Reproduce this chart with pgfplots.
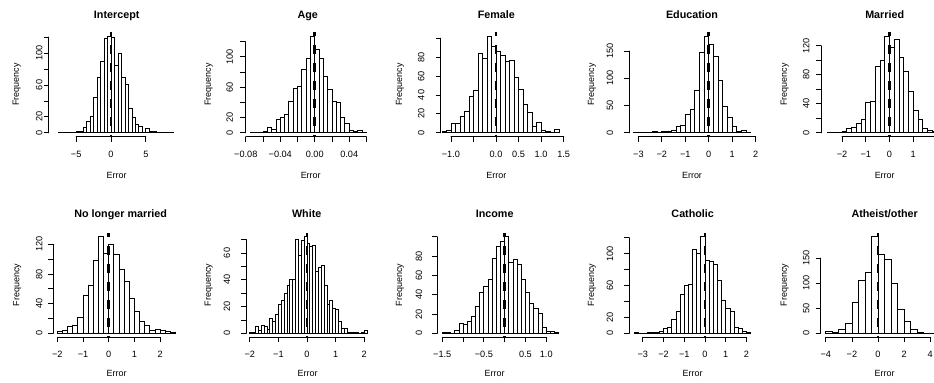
\documentclass[border=0pt]{standalone}
\usepackage{fontspec}
\setmainfont{Liberation Sans}
\usepackage{pgfplots}
\pgfplotsset{compat=1.18}
\newcommand{\tlf}{\fontsize{9.2}{11}\selectfont}
\newcommand{\lbf}{\fontsize{9}{11}\selectfont}
\newcommand{\ttf}{\bfseries\fontsize{10.8}{13}\selectfont}
\pgfplotsset{
 rh/.style={scale only axis, height=104.3bp, anchor=south west, clip=false,
   scaled ticks=false,
   axis x line*=bottom, axis y line*=left, axis line style={draw=none},
   tick align=outside, major tick length=5bp, tick style={draw=black, line width=0.8bp},
   ticklabel style={font=\tlf},
   every axis title/.style={font=\ttf, anchor=base},
   every axis x label/.style={font=\lbf, anchor=base},
   every axis y label/.style={font=\lbf, rotate=90, anchor=center}},
 top/.style={at={(#1,246.3bp)}, xticklabel style={anchor=base, yshift=-16bp}},
 bot/.style={at={(#1,45.7bp)}, xticklabel style={anchor=base, yshift=-15.3bp}},
 ylab/.style={yticklabel style={xshift=-#1, rotate=90, anchor=center}},
 hist/.style={ybar interval, fill=white, draw=black, line width=0.8bp},
 zl/.style={black, line width=2.6bp, dash pattern=on 9bp off 9bp, dash phase=5bp},
}
\tikzset{axl/.style={line width=0.8bp, line cap=round}}
\begin{document}
\begin{tikzpicture}
\path[use as bounding box] (0,0) rectangle (934bp,383bp);
\fill[white] (0,0) rectangle (934bp,383bp);
% ---------- Intercept
\begin{axis}[rh, top=48.7bp, width=129.6bp, xmin=-8.94, xmax=9.66, ymin=-4.84, ymax=125.84,
 xtick={-5,0,5}, xticklabels={−5,0,5}, ytick={0,20,40,60,80,100,120}, yticklabels={0,20,,60,,100,},
 ylab=4.4bp,
 title={Intercept}, title style={at={(axis description cs:0.5247,1.136)}},
 xlabel={Error}, xlabel style={at={(axis description cs:0.5247,-0.40)}},
 ylabel={Frequency}, ylabel style={at={(axis description cs:-0.2469,0.5)}}]
\addplot[hist] coordinates {(-7.5,1) (-7,0) (-6.5,0) (-6,1) (-5.5,0) (-5,2) (-4.5,2) (-4,7) (-3.5,14) (-3,21) (-2.5,44) (-2,69) (-1.5,89) (-1,118) (-0.5,121) (0,119) (0.5,85) (1,99) (1.5,70) (2,61) (2.5,31) (3,19) (3.5,10) (4,8) (4.5,1) (5,5) (5.5,2) (6,2) (6.5,1) (7,0) (7.5,1) (8,1) (8.5,1) (9,0)};
\addplot[zl] coordinates {(0,125.84) (0,-4.84)};
\draw[axl] (axis cs:-5,-4.84) -- (axis cs:5,-4.84);
\draw[axl] (axis cs:-8.94,0) -- (axis cs:-8.94,120);
\end{axis}
% ---------- Age
\begin{axis}[rh, top=245.3bp, width=125.8bp, xmin=-0.08054, xmax=0.0654, ymin=-5.08, ymax=132.08,
 xtick={-0.08,-0.06,-0.04,-0.02,0,0.02,0.04,0.06}, xticklabels={−0.08,,−0.04,,0.00,,0.04,},
 ytick={0,20,40,60,80,100,120}, yticklabels={0,20,,60,,100,},
 ylab=10.5bp,
 title={Age}, title style={at={(axis description cs:0.496,1.136)}},
 xlabel={Error}, xlabel style={at={(axis description cs:0.52,-0.40)}},
 ylabel={Frequency}, ylabel style={at={(axis description cs:-0.291,0.5)}}]
\addplot[hist] coordinates {(-0.075,1) (-0.07,0) (-0.065,1) (-0.06,2) (-0.055,7) (-0.05,4) (-0.045,18) (-0.04,20) (-0.035,24) (-0.03,41) (-0.025,58) (-0.02,61) (-0.015,84) (-0.01,98) (-0.005,127) (0,110) (0.005,98) (0.01,74) (0.015,57) (0.02,41) (0.025,40) (0.03,20) (0.035,12) (0.04,3) (0.045,2) (0.05,3) (0.055,1) (0.06,0)};
\addplot[zl] coordinates {(0,132.08) (0,-5.08)};
\draw[axl] (axis cs:-0.08,-5.08) -- (axis cs:0.06,-5.08);
\draw[axl] (axis cs:-0.08054,0) -- (axis cs:-0.08054,120);
\end{axis}
% ---------- Female
\begin{axis}[rh, top=440.7bp, width=123.1bp, xmin=-1.227, xmax=1.504, ymin=-4.08, ymax=106.08,
 xtick={-1,-0.5,0,0.5,1,1.5}, xticklabels={−1.0,,0.0,0.5,1.0,1.5},
 ytick={0,20,40,60,80,100}, yticklabels={0,20,40,60,80,},
 ylab=14.4bp,
 title={Female}, title style={at={(axis description cs:0.4517,1.136)}},
 xlabel={Error}, xlabel style={at={(axis description cs:0.4517,-0.40)}},
 ylabel={Frequency}, ylabel style={at={(axis description cs:-0.3306,0.5)}}]
\addplot[hist] coordinates {(-1.2,2) (-1.1,3) (-1.0,10) (-0.9,10) (-0.8,17) (-0.7,23) (-0.6,39) (-0.5,45) (-0.4,84) (-0.3,79) (-0.2,102) (-0.1,91) (0,86) (0.1,82) (0.2,75) (0.3,76) (0.4,59) (0.5,46) (0.6,30) (0.7,22) (0.8,7) (0.9,11) (1.0,3) (1.1,1) (1.2,0) (1.3,4) (1.4,0)};
\addplot[zl] coordinates {(0,106.08) (0,-4.08)};
\draw[axl] (axis cs:-1,-4.08) -- (axis cs:1.5,-4.08);
\draw[axl] (axis cs:-1.227,0) -- (axis cs:-1.227,100);
\end{axis}
% ---------- Education
\begin{axis}[rh, top=629.3bp, width=126.5bp, xmin=-3.389, xmax=2.01, ymin=-7.08, ymax=184.08,
 xtick={-3,-2,-1,0,1,2}, xticklabels={−3,−2,−1,0,1,2},
 ytick={0,50,100,150}, yticklabels={0,50,100,150},
 ylab=14.3bp,
 title={Education}, title style={at={(axis description cs:0.4957,1.136)}},
 xlabel={Error}, xlabel style={at={(axis description cs:0.4957,-0.40)}},
 ylabel={Frequency}, ylabel style={at={(axis description cs:-0.2949,0.5)}}]
\addplot[hist] coordinates {(-3.2,1) (-3.0,1) (-2.8,1) (-2.6,1) (-2.4,2) (-2.2,1) (-2.0,2) (-1.8,2) (-1.6,5) (-1.4,11) (-1.2,14) (-1.0,33) (-0.8,43) (-0.6,78) (-0.4,148) (-0.2,177) (0,162) (0.2,140) (0.4,97) (0.6,48) (0.8,29) (1.0,12) (1.2,3) (1.4,4) (1.6,1) (1.8,0)};
\addplot[zl] coordinates {(0,184.08) (0,-7.08)};
\draw[axl] (axis cs:-3,-7.08) -- (axis cs:2,-7.08);
\draw[axl] (axis cs:-3.389,0) -- (axis cs:-3.389,150);
\end{axis}
% ---------- Married
\begin{axis}[rh, top=821.3bp, width=124.9bp, xmin=-2.878, xmax=2.392, ymin=-5.32, ymax=138.32,
 xtick={-2,-1,0,1,2}, xticklabels={−2,−1,0,1,},
 ytick={0,20,40,60,80,100,120}, yticklabels={0,,40,,80,,120},
 ylab=10bp,
 title={Married}, title style={at={(axis description cs:0.5076,1.136)}},
 xlabel={Error}, xlabel style={at={(axis description cs:0.5076,-0.40)}},
 ylabel={Frequency}, ylabel style={at={(axis description cs:-0.293,0.5)}}]
\addplot[hist] coordinates {(-2.6,1) (-2.4,0) (-2.2,0) (-2.0,2) (-1.8,6) (-1.6,8) (-1.4,13) (-1.2,19) (-1.0,42) (-0.8,43) (-0.6,92) (-0.4,100) (-0.2,133) (0,118) (0.2,128) (0.4,104) (0.6,85) (0.8,57) (1.0,31) (1.2,19) (1.4,6) (1.6,4) (1.8,2) (2.0,1) (2.2,0)};
\addplot[zl] coordinates {(0,138.32) (0,-5.32)};
\draw[axl] (axis cs:-2,-5.32) -- (axis cs:2,-5.32);
\draw[axl] (axis cs:-2.878,0) -- (axis cs:-2.878,120);
\end{axis}
% ---------- No longer married
\begin{axis}[rh, bot=53.3bp, width=126.9bp, xmin=-2.158, xmax=2.784, ymin=-5.2, ymax=135.2,
 xtick={-2,-1,0,1,2}, xticklabels={−2,−1,0,1,2},
 ytick={0,20,40,60,80,100,120}, yticklabels={0,,40,,80,,120},
 ylab=9bp,
 title={No longer married}, title style={at={(axis description cs:0.5311,1.147)}},
 xlabel={Error}, xlabel style={at={(axis description cs:0.4996,-0.38)}},
 ylabel={Frequency}, ylabel style={at={(axis description cs:-0.2837,0.5)}}]
\addplot[hist] coordinates {(-2.0,3) (-1.8,4) (-1.6,10) (-1.4,11) (-1.2,22) (-1.0,51) (-0.8,64) (-0.6,98) (-0.4,130) (-0.2,108) (0,120) (0.2,106) (0.4,86) (0.6,70) (0.8,47) (1.0,29) (1.2,16) (1.4,11) (1.6,4) (1.8,5) (2.0,4) (2.2,3) (2.4,1) (2.6,0)};
\addplot[zl] coordinates {(0,135.2) (0,-5.2)};
\draw[axl] (axis cs:-2,-5.2) -- (axis cs:2,-5.2);
\draw[axl] (axis cs:-2.158,0) -- (axis cs:-2.158,120);
\end{axis}
% ---------- White
\begin{axis}[rh, bot=246.3bp, width=125.4bp, xmin=-2.124, xmax=2.264, ymin=-2.88, ymax=74.88,
 xtick={-2,-1,0,1,2}, xticklabels={−2,−1,0,1,2},
 ytick={0,10,20,30,40,50,60,70}, yticklabels={0,,20,,40,,60,},
 ylab=14.3bp,
 title={White}, title style={at={(axis description cs:0.4817,1.147)}},
 xlabel={Error}, xlabel style={at={(axis description cs:0.4896,-0.38)}},
 ylabel={Frequency}, ylabel style={at={(axis description cs:-0.2998,0.5)}}]
\addplot[hist] coordinates {(-2.0,1) (-1.9,1) (-1.8,5) (-1.7,2) (-1.6,6) (-1.5,5) (-1.4,3) (-1.3,11) (-1.2,9) (-1.1,14) (-1.0,22) (-0.9,25) (-0.8,30) (-0.7,36) (-0.6,40) (-0.5,40) (-0.4,70) (-0.3,58) (-0.2,69) (-0.1,72) (0,67) (0.1,65) (0.2,66) (0.3,46) (0.4,49) (0.5,51) (0.6,36) (0.7,22) (0.8,25) (0.9,19) (1.0,18) (1.1,9) (1.2,4) (1.3,4) (1.4,1) (1.5,1) (1.6,1) (1.7,1) (1.8,0) (1.9,1) (2.0,2) (2.1,0)};
\addplot[zl] coordinates {(0,74.88) (0,-2.88)};
\draw[axl] (axis cs:-2,-2.88) -- (axis cs:2,-2.88);
\draw[axl] (axis cs:-2.124,0) -- (axis cs:-2.124,70);
\end{axis}
% ---------- Income
\begin{axis}[rh, bot=437.3bp, width=126.1bp, xmin=-1.62, xmax=1.412, ymin=-4, ymax=104,
 xtick={-1.5,-1,-0.5,0,0.5,1}, xticklabels={−1.5,,−0.5,,0.5,1.0},
 ytick={0,20,40,60,80,100}, yticklabels={0,20,40,60,80,},
 ylab=13.3bp,
 title={Income}, title style={at={(axis description cs:0.4552,1.147)}},
 xlabel={Error}, xlabel style={at={(axis description cs:0.4552,-0.38)}},
 ylabel={Frequency}, ylabel style={at={(axis description cs:-0.2958,0.5)}}]
\addplot[hist] coordinates {(-1.5,1) (-1.4,1) (-1.3,0) (-1.2,3) (-1.1,10) (-1.0,9) (-0.9,12) (-0.8,18) (-0.7,28) (-0.6,42) (-0.5,49) (-0.4,56) (-0.3,78) (-0.2,90) (-0.1,95) (0,100) (0.1,74) (0.2,77) (0.3,71) (0.4,56) (0.5,43) (0.6,31) (0.7,26) (0.8,21) (0.9,6) (1.0,2) (1.1,2) (1.2,1) (1.3,0)};
\addplot[zl] coordinates {(0,104) (0,-4)};
\draw[axl] (axis cs:-1.5,-4) -- (axis cs:1,-4);
\draw[axl] (axis cs:-1.62,0) -- (axis cs:-1.62,100);
\end{axis}
% ---------- Catholic
\begin{axis}[rh, bot=629.3bp, width=126bp, xmin=-3.652, xmax=2.424, ymin=-4.84, ymax=125.84,
 xtick={-3,-2,-1,0,1,2}, xticklabels={−3,−2,−1,0,1,2},
 ytick={0,20,40,60,80,100,120}, yticklabels={0,20,,60,,100,},
 ylab=14.3bp,
 title={Catholic}, title style={at={(axis description cs:0.5032,1.147)}},
 xlabel={Error}, xlabel style={at={(axis description cs:0.5032,-0.38)}},
 ylabel={Frequency}, ylabel style={at={(axis description cs:-0.296,0.5)}}]
\addplot[hist] coordinates {(-3.4,1) (-3.2,0) (-3.0,0) (-2.8,1) (-2.6,1) (-2.4,1) (-2.2,3) (-2.0,6) (-1.8,8) (-1.6,18) (-1.4,28) (-1.2,49) (-1.0,60) (-0.8,62) (-0.6,105) (-0.4,100) (-0.2,121) (0,91) (0.2,90) (0.4,87) (0.6,67) (0.8,42) (1.0,31) (1.2,28) (1.4,7) (1.6,6) (1.8,2) (2.0,1) (2.2,0)};
\addplot[zl] coordinates {(0,125.84) (0,-4.84)};
\draw[axl] (axis cs:-3,-4.84) -- (axis cs:2,-4.84);
\draw[axl] (axis cs:-3.652,0) -- (axis cs:-3.652,120);
\end{axis}
% ---------- Atheist/other
\begin{axis}[rh, bot=820.7bp, width=127.2bp, xmin=-4.394, xmax=5.36, ymin=-7.68, ymax=199.68,
 xtick={-4,-2,0,2,4}, xticklabels={−4,−2,0,2,4},
 ytick={0,50,100,150}, yticklabels={0,50,100,150},
 ylab=9.4bp,
 title={Atheist/other}, title style={at={(axis description cs:0.5031,1.147)}},
 xlabel={Error}, xlabel style={at={(axis description cs:0.5031,-0.38)}},
 ylabel={Frequency}, ylabel style={at={(axis description cs:-0.283,0.5)}}]
\addplot[hist] coordinates {(-4,4) (-3.5,2) (-3,9) (-2.5,20) (-2,62) (-1.5,105) (-1,122) (-0.5,192) (0,157) (0.5,147) (1,99) (1.5,47) (2,24) (2.5,9) (3,3) (3.5,1) (4,1) (4.5,0) (5,0)};
\addplot[zl] coordinates {(0,199.68) (0,-7.68)};
\draw[axl] (axis cs:-4,-7.68) -- (axis cs:4,-7.68);
\draw[axl] (axis cs:-4.394,0) -- (axis cs:-4.394,150);
\end{axis}
\end{tikzpicture}
\end{document}
